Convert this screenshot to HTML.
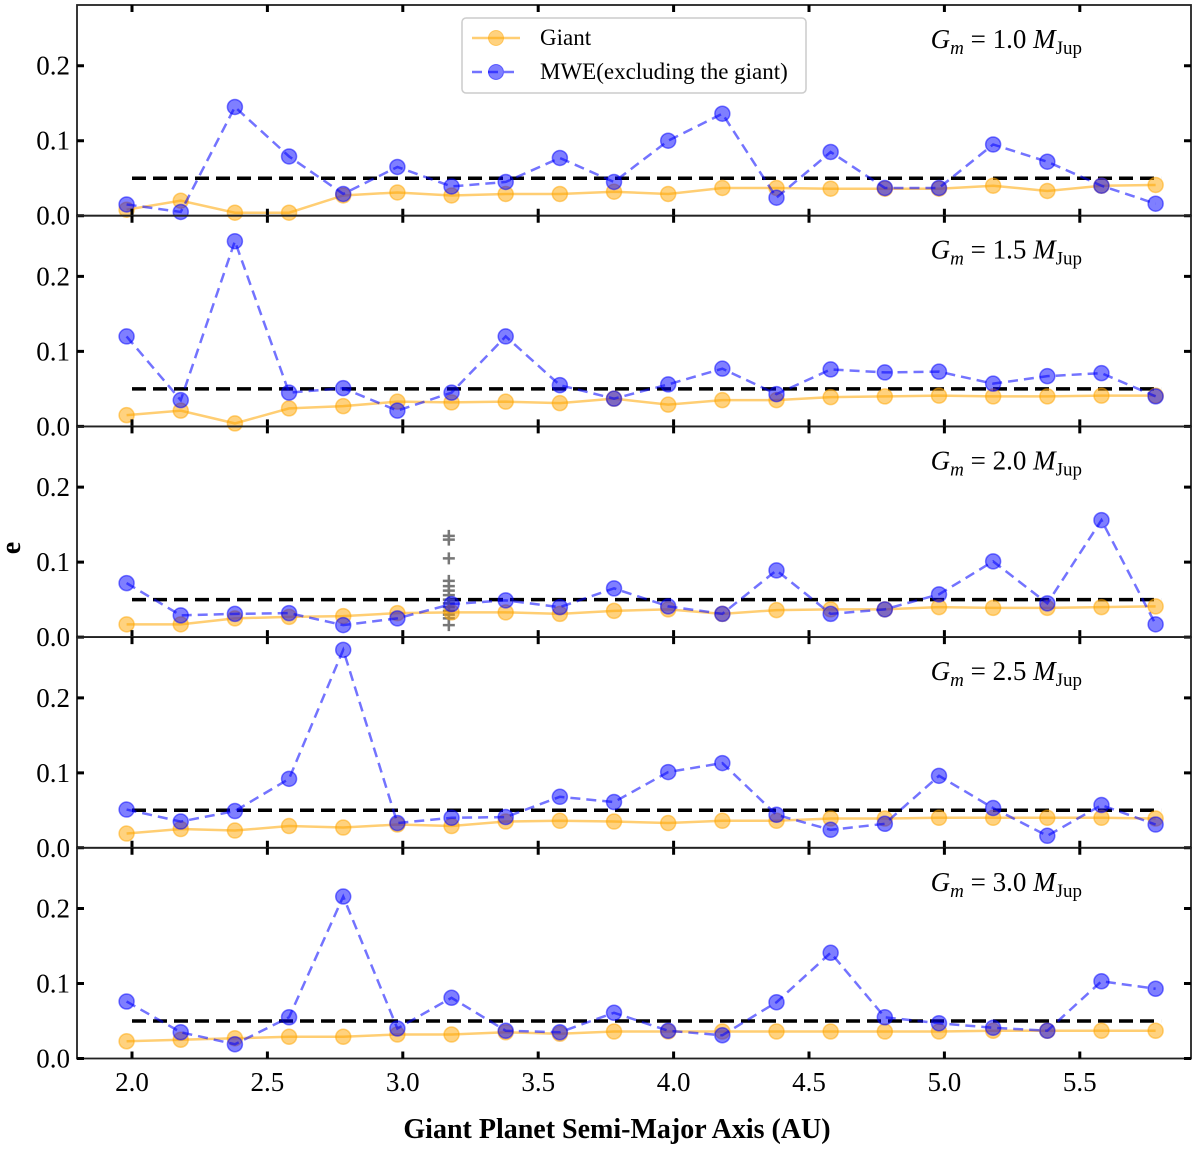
<!DOCTYPE html>
<html><head><meta charset="utf-8"><style>
html,body{margin:0;padding:0;background:#fff;}
svg, svg text{font-family:"Liberation Serif","DejaVu Serif",serif !important;}
</style></head><body>
<svg id="chart" width="1200" height="1150" viewBox="0 0 1200 1150" font-family="Liberation Serif, serif" xmlns="http://www.w3.org/2000/svg"></svg>
<script>
const xVals = [1.98,2.18,2.38,2.58,2.78,2.98,3.18,3.38,3.58,3.78,3.98,4.18,4.38,4.58,4.78,4.98,5.18,5.38,5.58,5.78];
const panelLabels = ["1.0","1.5","2.0","2.5","3.0"];
const giant1 = [.008,.02,.004,.004,.027,.031,.027,.029,.029,.032,.029,.037,.037,.036,.036,.036,.04,.033,.04,.041];
const mwe1 = [.015,.005,.145,.079,.029,.065,.039,.045,.077,.045,.1,.136,.024,.085,.037,.037,.095,.072,.04,.016];
const giant2 = [.015,.021,.004,.024,.027,.033,.032,.033,.031,.037,.029,.035,.035,.039,.04,.041,.04,.04,.041,.041];
const mwe2 = [.12,.035,.247,.045,.051,.021,.045,.12,.055,.037,.056,.077,.043,.076,.072,.073,.057,.067,.071,.04];
const giant3 = [.017,.017,.025,.027,.028,.032,.033,.033,.031,.035,.037,.031,.036,.037,.037,.04,.039,.039,.04,.041];
const mwe3 = [.072,.029,.031,.032,.016,.025,.044,.049,.04,.065,.041,.031,.089,.031,.037,.057,.101,.045,.156,.017];
const giant4 = [.019,.025,.023,.029,.027,.031,.029,.035,.036,.035,.033,.036,.036,.039,.039,.04,.04,.04,.04,.039];
const mwe4 = [.051,.035,.049,.092,.264,.033,.04,.041,.068,.061,.101,.113,.044,.024,.032,.096,.053,.016,.057,.031];
const giant5 = [.023,.025,.027,.029,.029,.032,.032,.035,.033,.036,.036,.036,.036,.036,.036,.036,.037,.037,.037,.037];
const mwe5 = [.076,.035,.019,.055,.216,.04,.081,.037,.035,.061,.037,.031,.075,.141,.055,.047,.041,.037,.103,.093];
const crossX = 3.17;
const crossVals = [.135,.13,.105,.075,.068,.062,.056,.05,.045,.04,.035,.03,.025,.016];
const xTicks = [2.0,2.5,3.0,3.5,4.0,4.5,5.0,5.5];
const yTicks = [0.0,0.1,0.2];
const refLine = 0.05;

const giants=[giant1,giant2,giant3,giant4,giant5];
const mwes=[mwe1,mwe2,mwe3,mwe4,mwe5];
const NS="http://www.w3.org/2000/svg";
const svg=document.getElementById('chart');
const FF='"Liberation Serif", serif';
const L=77,R=1191,T=5,B=1058.5;
const PH=(B-T)/5;
const YMAX=0.281;
function X(v){return 132+(v-2.0)*270.8;}
function Y(p,v){const base=T+PH*(p+1);return base-v/YMAX*PH;}
function mk(tag,attrs,parent){const e=document.createElementNS(NS,tag);for(const k in attrs)e.setAttribute(k,attrs[k]);if(tag==='text')e.setAttribute('font-family',FF);(parent||svg).appendChild(e);return e;}

for(let p=0;p<5;p++){
  const g=mk('g',{});
  
  
  const top=T+PH*p, bot=T+PH*(p+1);
  const rl=mk('line',{x1:X(2.0),x2:X(5.8),y1:Y(p,refLine),y2:Y(p,refLine),stroke:'#000','stroke-width':3.5,'stroke-dasharray':'14,7'},g);
  
  
  if(p===2){
    crossVals.forEach(v=>{
      const c=mk('path',{d:`M${X(crossX)-6},${Y(p,v)}h12M${X(crossX)},${Y(p,v)-6}v12`,stroke:'#777','stroke-width':2.5},g);
      
      
    });
  }
  const gp=giants[p].map((v,i)=>X(xVals[i])+','+Y(p,v)).join(' ');
  const gl=mk('polyline',{points:gp,fill:'none',stroke:'#ffa500','stroke-opacity':0.55,'stroke-width':2.5},g);
  
  
  giants[p].forEach((v,i)=>{
    const c=mk('circle',{cx:X(xVals[i]),cy:Y(p,v),r:7.5,fill:'#ffa500','fill-opacity':0.5,stroke:'#ffa500','stroke-opacity':0.5,'stroke-width':1.5},g);
    
    
  });
  const mp=mwes[p].map((v,i)=>X(xVals[i])+','+Y(p,v)).join(' ');
  const ml=mk('polyline',{points:mp,fill:'none',stroke:'#0000ff','stroke-opacity':0.55,'stroke-width':2.5,'stroke-dasharray':'10,6'},g);
  
  
  mwes[p].forEach((v,i)=>{
    const c=mk('circle',{cx:X(xVals[i]),cy:Y(p,v),r:7.5,fill:'#0000ff','fill-opacity':0.5,stroke:'#0000ff','stroke-opacity':0.5,'stroke-width':1.5},g);
    
    
  });
  const fr=mk('rect',{x:L,y:top,width:R-L,height:PH,fill:'none',stroke:'#222','stroke-width':1.8},g);
  
  
  xTicks.forEach(t=>{
    const a=mk('path',{d:`M${X(t)},${bot}v-7M${X(t)},${top}v7`,stroke:'#000','stroke-width':3},g);
    
    
  });
  yTicks.forEach(t=>{
    const a=mk('path',{d:`M${L},${Y(p,t)}h7M${R},${Y(p,t)}h-7`,stroke:'#000','stroke-width':3},g);
    
    
    const tl=mk('text',{x:70,y:Y(p,t)+9,'text-anchor':'end','font-size':27},g);
    tl.textContent=t.toFixed(1);
    
    
  });
  const an=mk('text',{x:1082,y:top+43,'text-anchor':'end','font-size':27},g);
  an.innerHTML=`<tspan font-style="italic">G</tspan><tspan font-style="italic" font-size="19" dy="6">m</tspan><tspan dy="-6"> = ${panelLabels[p]} </tspan><tspan font-style="italic">M</tspan><tspan font-size="19" dy="6">Jup</tspan>`;
  
  
}
xTicks.forEach(t=>{
  const tl=mk('text',{x:X(t),y:1091,'text-anchor':'middle','font-size':27});
  tl.textContent=t.toFixed(1);
  
  
});
const xt=mk('text',{x:617,y:1138,'text-anchor':'middle','font-size':28,'font-weight':'bold'});
xt.textContent='Giant Planet Semi-Major Axis (AU)';


const yt=mk('text',{x:0,y:0,'text-anchor':'middle','font-size':28,'font-weight':'bold',transform:'translate(20,548) rotate(-90)'});
yt.textContent='e';


const lg=mk('g',{});


mk('rect',{x:462,y:18,width:344,height:75,rx:4,fill:'#fff','fill-opacity':0.85,stroke:'#ccc','stroke-width':1.5},lg);
const e1=mk('g',{},lg);


mk('line',{x1:472,x2:520,y1:38,y2:38,stroke:'#ffa500','stroke-opacity':0.55,'stroke-width':2.5},e1);
mk('circle',{cx:496,cy:38,r:7.5,fill:'#ffa500','fill-opacity':0.5,stroke:'#ffa500','stroke-opacity':0.5},e1);
const t1=mk('text',{x:540,y:45,'font-size':23},e1);t1.textContent='Giant';
const e2=mk('g',{},lg);


mk('line',{x1:472,x2:520,y1:72,y2:72,stroke:'#0000ff','stroke-opacity':0.55,'stroke-width':2.5,'stroke-dasharray':'10,6'},e2);
mk('circle',{cx:496,cy:72,r:7.5,fill:'#0000ff','fill-opacity':0.5,stroke:'#0000ff','stroke-opacity':0.5},e2);
const t2=mk('text',{x:540,y:79,'font-size':23},e2);t2.textContent='MWE(excluding the giant)';
</script>
</body></html>
